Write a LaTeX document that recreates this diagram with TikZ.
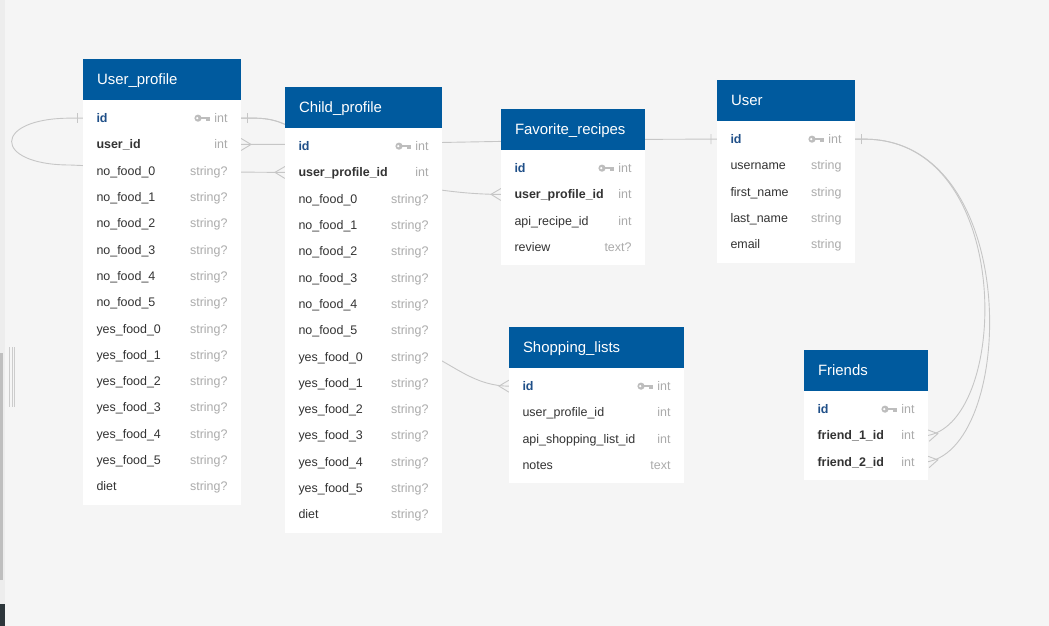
\documentclass[tikz,border=0pt]{standalone}
\usepackage{fontspec}
\setmainfont{Liberation Sans}
\usetikzlibrary{positioning,decorations.markings}
\pgfdeclarelayer{background}
\pgfdeclarelayer{body}
\pgfsetlayers{background,body,main}

\definecolor{pagegray}{HTML}{F5F5F5}
\definecolor{hdrblue}{HTML}{005A9E}
\definecolor{idblue}{HTML}{1F4F88}
\definecolor{fieldgray}{HTML}{333333}
\definecolor{typegray}{HTML}{ABABAB}
\definecolor{linegray}{HTML}{C6C6C6}
\definecolor{keygray}{HTML}{BDBDBD}
\definecolor{bardark}{HTML}{2D363B}

\newcommand{\ty}[1]{\textcolor{typegray}{#1}}
\newcommand{\pk}{\textcolor{idblue}{\textbf{id}}}

\tikzset{
  hdr/.style={fill=hdrblue, text=white, anchor=north west, minimum height=41bp,
    inner xsep=14bp, inner ysep=0pt, outer sep=0pt, text height=10.7bp, text depth=0bp,
    font=\fontsize{15}{18}\selectfont},
  row/.style={inner xsep=13.5bp, inner ysep=0pt, outer sep=0pt, minimum height=26.3bp,
    text height=9bp, text depth=0bp, text=fieldgray,
    font=\fontsize{12.5}{15}\selectfont},
  conn/.style={draw=linegray, line width=0.9bp},
  onestart/.style={postaction={decorate, decoration={markings,
    mark=at position 6bp with {\draw[linegray, line width=0.9bp] (0,-5bp) -- (0,5bp);}}}},
  oneend/.style={postaction={decorate, decoration={markings,
    mark=at position -6bp with {\draw[linegray, line width=0.9bp] (0,-5bp) -- (0,5bp);}}}},
  manystart/.style={postaction={decorate, decoration={markings,
    mark=at position 0.0001 with {\draw[linegray, line width=0.9bp] (0,6bp) -- (10bp,0) -- (0,-6bp);}}}},
  manyend/.style={postaction={decorate, decoration={markings,
    mark=at position 0.9999 with {\draw[linegray, line width=0.9bp] (0,6bp) -- (-10bp,0) -- (0,-6bp);}}}},
  keyic/.pic={
    \fill[keygray] (0,0) circle (3.6bp);
    \fill[white] (-0.8bp,0) circle (1.3bp);
    \fill[keygray] (2bp,-1.3bp) rectangle (11.5bp,1.3bp);
    \fill[keygray] (8bp,-1.3bp) rectangle (9.5bp,-3.3bp);
    \fill[keygray] (10.2bp,-1.3bp) rectangle (11.5bp,-3.3bp);
  }
}

\begin{document}
\begin{tikzpicture}[x=1bp, y=-1bp]
  \useasboundingbox (0,0) rectangle (1049,626);

  % User_profile
  \node[hdr, text width=130bp] (uprH) at (83,59) {User\_profile};
  \node[row, text width=131bp, anchor=north west] (upr-id) at (83,105) {\pk\hfill\ty{int}};
  \node[row, text width=131bp, below=0pt of upr-id] (upr-uid) {\textbf{user\_id}\hfill\ty{int}};
  \node[row, text width=131bp, below=0pt of upr-uid] (upr-n0) {no\_food\_0\hfill\ty{string?}};
  \node[row, text width=131bp, below=0pt of upr-n0] (upr-n1) {no\_food\_1\hfill\ty{string?}};
  \node[row, text width=131bp, below=0pt of upr-n1] (upr-n2) {no\_food\_2\hfill\ty{string?}};
  \node[row, text width=131bp, below=0pt of upr-n2] (upr-n3) {no\_food\_3\hfill\ty{string?}};
  \node[row, text width=131bp, below=0pt of upr-n3] (upr-n4) {no\_food\_4\hfill\ty{string?}};
  \node[row, text width=131bp, below=0pt of upr-n4] (upr-n5) {no\_food\_5\hfill\ty{string?}};
  \node[row, text width=131bp, below=0pt of upr-n5] (upr-y0) {yes\_food\_0\hfill\ty{string?}};
  \node[row, text width=131bp, below=0pt of upr-y0] (upr-y1) {yes\_food\_1\hfill\ty{string?}};
  \node[row, text width=131bp, below=0pt of upr-y1] (upr-y2) {yes\_food\_2\hfill\ty{string?}};
  \node[row, text width=131bp, below=0pt of upr-y2] (upr-y3) {yes\_food\_3\hfill\ty{string?}};
  \node[row, text width=131bp, below=0pt of upr-y3] (upr-y4) {yes\_food\_4\hfill\ty{string?}};
  \node[row, text width=131bp, below=0pt of upr-y4] (upr-y5) {yes\_food\_5\hfill\ty{string?}};
  \node[row, text width=131bp, below=0pt of upr-y5] (upr-diet) {diet\hfill\ty{string?}};

  % Child_profile
  \node[hdr, text width=129bp] (cprH) at (285,87) {Child\_profile};
  \node[row, text width=130bp, anchor=north west] (cpr-id) at (285,133) {\pk\hfill\ty{int}};
  \node[row, text width=130bp, below=0pt of cpr-id] (cpr-upid) {\textbf{user\_profile\_id}\hfill\ty{int}};
  \node[row, text width=130bp, below=0pt of cpr-upid] (cpr-n0) {no\_food\_0\hfill\ty{string?}};
  \node[row, text width=130bp, below=0pt of cpr-n0] (cpr-n1) {no\_food\_1\hfill\ty{string?}};
  \node[row, text width=130bp, below=0pt of cpr-n1] (cpr-n2) {no\_food\_2\hfill\ty{string?}};
  \node[row, text width=130bp, below=0pt of cpr-n2] (cpr-n3) {no\_food\_3\hfill\ty{string?}};
  \node[row, text width=130bp, below=0pt of cpr-n3] (cpr-n4) {no\_food\_4\hfill\ty{string?}};
  \node[row, text width=130bp, below=0pt of cpr-n4] (cpr-n5) {no\_food\_5\hfill\ty{string?}};
  \node[row, text width=130bp, below=0pt of cpr-n5] (cpr-y0) {yes\_food\_0\hfill\ty{string?}};
  \node[row, text width=130bp, below=0pt of cpr-y0] (cpr-y1) {yes\_food\_1\hfill\ty{string?}};
  \node[row, text width=130bp, below=0pt of cpr-y1] (cpr-y2) {yes\_food\_2\hfill\ty{string?}};
  \node[row, text width=130bp, below=0pt of cpr-y2] (cpr-y3) {yes\_food\_3\hfill\ty{string?}};
  \node[row, text width=130bp, below=0pt of cpr-y3] (cpr-y4) {yes\_food\_4\hfill\ty{string?}};
  \node[row, text width=130bp, below=0pt of cpr-y4] (cpr-y5) {yes\_food\_5\hfill\ty{string?}};
  \node[row, text width=130bp, below=0pt of cpr-y5] (cpr-diet) {diet\hfill\ty{string?}};

  % Favorite_recipes
  \node[hdr, text width=116bp] (favH) at (501,109) {Favorite\_recipes};
  \node[row, text width=117bp, anchor=north west] (fav-id) at (501,155) {\pk\hfill\ty{int}};
  \node[row, text width=117bp, below=0pt of fav-id] (fav-upid) {\textbf{user\_profile\_id}\hfill\ty{int}};
  \node[row, text width=117bp, below=0pt of fav-upid] (fav-rid) {api\_recipe\_id\hfill\ty{int}};
  \node[row, text width=117bp, below=0pt of fav-rid] (fav-rev) {review\hfill\ty{text?}};

  % User
  \node[hdr, text width=110bp] (usrH) at (717,80) {User};
  \node[row, text width=111bp, anchor=north west] (usr-id) at (717,126) {\pk\hfill\ty{int}};
  \node[row, text width=111bp, below=0pt of usr-id] (usr-un) {username\hfill\ty{string}};
  \node[row, text width=111bp, below=0pt of usr-un] (usr-fn) {first\_name\hfill\ty{string}};
  \node[row, text width=111bp, below=0pt of usr-fn] (usr-ln) {last\_name\hfill\ty{string}};
  \node[row, text width=111bp, below=0pt of usr-ln] (usr-em) {email\hfill\ty{string}};

  % Shopping_lists
  \node[hdr, text width=147bp] (shlH) at (509,327) {Shopping\_lists};
  \node[row, text width=148bp, anchor=north west] (shl-id) at (509,373) {\pk\hfill\ty{int}};
  \node[row, text width=148bp, below=0pt of shl-id] (shl-upid) {user\_profile\_id\hfill\ty{int}};
  \node[row, text width=148bp, below=0pt of shl-upid] (shl-slid) {api\_shopping\_list\_id\hfill\ty{int}};
  \node[row, text width=148bp, below=0pt of shl-slid] (shl-notes) {notes\hfill\ty{text}};

  % Friends
  \node[hdr, text width=96bp] (frnH) at (804,350) {Friends};
  \node[row, text width=97bp, anchor=north west] (frn-id) at (804,396) {\pk\hfill\ty{int}};
  \node[row, text width=97bp, below=0pt of frn-id] (frn-f1) {\textbf{friend\_1\_id}\hfill\ty{int}};
  \node[row, text width=97bp, below=0pt of frn-f1] (frn-f2) {\textbf{friend\_2\_id}\hfill\ty{int}};

  % key icons
  \pic at ([xshift=-43bp]upr-id.east) {keyic};
  \pic at ([xshift=-43bp]cpr-id.east) {keyic};
  \pic at ([xshift=-43bp]fav-id.east) {keyic};
  \pic at ([xshift=-43bp]usr-id.east) {keyic};
  \pic at ([xshift=-43bp]shl-id.east) {keyic};
  \pic at ([xshift=-43bp]frn-id.east) {keyic};

  % white table bodies
  \begin{pgfonlayer}{body}
    \fill[white] (uprH.south west) rectangle ([yshift=-5bp]upr-diet.south east);
    \fill[white] (cprH.south west) rectangle ([yshift=-5bp]cpr-diet.south east);
    \fill[white] (favH.south west) rectangle ([yshift=-5bp]fav-rev.south east);
    \fill[white] (usrH.south west) rectangle ([yshift=-5bp]usr-em.south east);
    \fill[white] (shlH.south west) rectangle ([yshift=-5bp]shl-notes.south east);
    \fill[white] (frnH.south west) rectangle ([yshift=-5bp]frn-f2.south east);
  \end{pgfonlayer}

  \begin{pgfonlayer}{background}
    \fill[pagegray] (0,0) rectangle (1049,626);
    \fill[black!7] (0,0) rectangle (4.5,604);
    \fill[black!25] (0,353) rectangle (3,580);
    \fill[bardark] (0,604) rectangle (5,626);
    \draw[black!20, line width=0.7bp] (9.5,347) -- (9.5,407) (12,347) -- (12,407) (14.5,347) -- (14.5,407);

    % connectors
    \draw[conn, onestart, manyend] (upr-id.west) -- ++(-12,0)
      .. controls (-8,118) and (-8,165) .. (70,165) -- (230,172) -- (cpr-upid.west);
    \draw[conn, onestart, manyend] (upr-id.east) -- ++(12,0)
      .. controls (275,118) and (285,124) .. (300,132) -- (330,170)
      .. controls (430,190) and (460,194) .. (fav-upid.west);
    \draw[conn, onestart, manyend] (upr-id.east) -- ++(12,0)
      .. controls (275,118) and (285,124) .. (300,132) -- (425,352)
      .. controls (455,366) and (475,386) .. (shl-id.west);
    \draw[conn, manystart, oneend] (upr-uid.east) to[out=0, in=180] (usr-id.west);
    \draw[conn, onestart, manyend] (usr-id.east) -- ++(10,0)
      .. controls (1015,140) and (1010,420) .. (frn-f1.east);
    \draw[conn, onestart, manyend] (usr-id.east) -- ++(10,0)
      .. controls (1022,140) and (1016,445) .. (frn-f2.east);
  \end{pgfonlayer}
\end{tikzpicture}
\end{document}
